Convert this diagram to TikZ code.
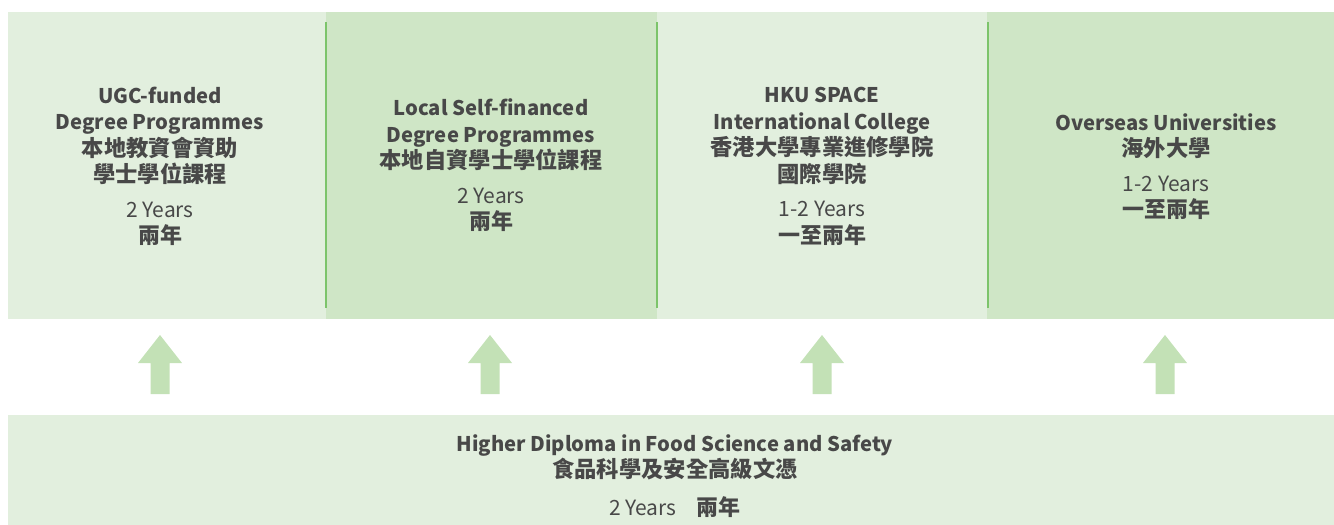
\documentclass[tikz,border=0pt]{standalone}
\usepackage{fontspec}
\setmainfont{Noto Sans CJK TC}
\newfontfamily\zhmedium{Noto Sans CJK TC Medium}
\usetikzlibrary{positioning}
\definecolor{lightgreen}{HTML}{E2EFDE}
\definecolor{midgreen}{HTML}{CFE6C6}
\definecolor{linegreen}{HTML}{7CC46A}
\definecolor{arrowgreen}{HTML}{C3E1B6}
\definecolor{textgray}{HTML}{484848}
\newcommand{\zh}[1]{{\fontsize{22.3}{26.5}\selectfont #1}}
\newcommand{\yr}[1]{{\mdseries\fontsize{21}{26.5}\selectfont #1}}
\newcommand{\yrzh}[1]{{\zhmedium\fontsize{22}{26.5}\selectfont #1}}
\begin{document}
\begin{tikzpicture}[x=1pt,y=-1pt,
    lightbox/.style={fill=lightgreen,inner sep=0,outer sep=0,anchor=north west,minimum height=307},
    midbox/.style={fill=midgreen,inner sep=0,outer sep=0,anchor=north west,minimum height=307},
    label/.style={text=textgray,align=center,font=\fontsize{20.2}{26.5}\selectfont\bfseries,inner sep=0}]
    \useasboundingbox (0,0) rectangle (1334,525);
    % boxes
    \node[lightbox,minimum width=318] (ugc) at (8,12) {};
    \node[midbox,minimum width=331] (local) at (326,12) {};
    \node[lightbox,minimum width=330] (hku) at (657,12) {};
    \node[midbox,minimum width=347] (overseas) at (987,12) {};
    \node[lightbox,minimum width=1326,minimum height=110] (hd) at (8,415) {};
    % green lines
    \draw[linegreen,line width=2.5] ([yshift=-10]local.north west) -- ([yshift=11]local.south west);
    \draw[linegreen,line width=2.5] ([yshift=-10]local.north east) -- ([yshift=11]local.south east);
    \draw[linegreen,line width=2.5] ([xshift=1,yshift=-10]overseas.north west) -- ([xshift=1,yshift=11]overseas.south west);
    % texts
    \node[label] (ugctext) at (160,166.5) {UGC-funded\\Degree Programmes\\\zh{本地教資會資助}\\\zh{學士學位課程}\\[8pt]\yr{2 Years}\\\yrzh{兩年}};
    \node[label] (localtext) at (491,165.5) {Local Self-financed\\Degree Programmes\\\zh{本地自資學士學位課程}\\[8pt]\yr{2 Years}\\\yrzh{兩年}};
    \node[label] (hkutext) at (822,166.5) {HKU SPACE\\International College\\\zh{香港大學專業進修學院}\\\zh{國際學院}\\[8pt]\yr{1-2 Years}\\\yrzh{一至兩年}};
    \node[label] (overseastext) at (1166,166.5) {Overseas Universities\\\zh{海外大學}\\[8pt]\yr{1-2 Years}\\\yrzh{一至兩年}};
    \node[label] (hdtext) at (675,476) {Higher Diploma in Food Science and Safety\\\zh{食品科學及安全高級文憑}\\[11pt]\yr{2 Years}\quad\yrzh{兩年}};
    % arrows
    \foreach \cx in {160,490,822,1165}
        \fill[arrowgreen] (\cx-9.5,394) -- (\cx-9.5,363) -- (\cx-22,363) -- (\cx,335)
            -- (\cx+22,363) -- (\cx+9.5,363) -- (\cx+9.5,394) -- cycle;
\end{tikzpicture}
\end{document}
